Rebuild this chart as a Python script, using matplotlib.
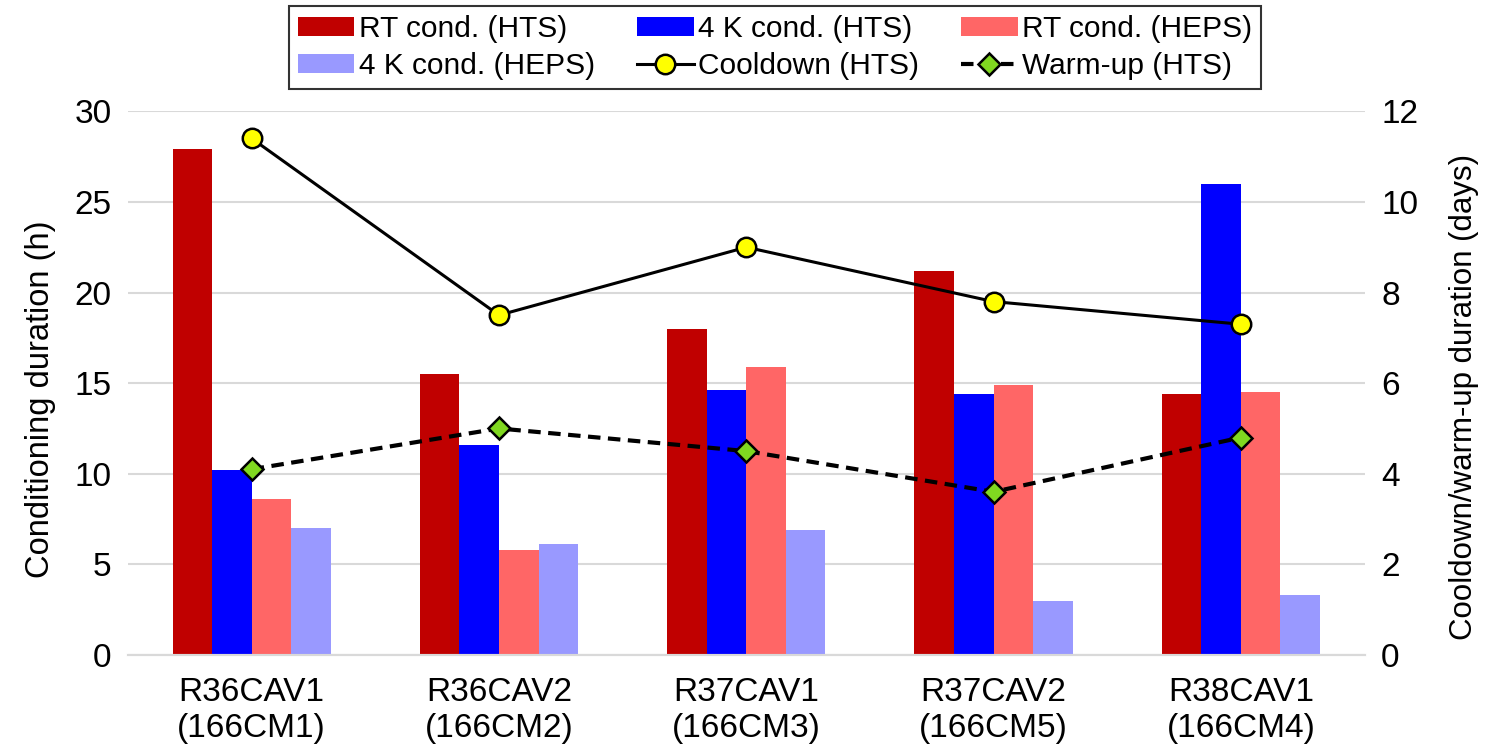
import matplotlib
matplotlib.use("Agg")
import matplotlib.pyplot as plt
import numpy as np

plt.rcParams['font.family'] = ['Liberation Sans', 'DejaVu Sans']

categories = ["R36CAV1\n(166CM1)", "R36CAV2\n(166CM2)", "R37CAV1\n(166CM3)",
              "R37CAV2\n(166CM5)", "R38CAV1\n(166CM4)"]
rt_hts = [27.9, 15.5, 18.0, 21.2, 14.4]
k4_hts = [10.2, 11.6, 14.6, 14.4, 26.0]
rt_heps = [8.6, 5.8, 15.9, 14.9, 14.5]
k4_heps = [7.0, 6.1, 6.9, 3.0, 3.3]
cooldown = [11.4, 7.5, 9.0, 7.8, 7.3]
warmup = [4.1, 5.0, 4.5, 3.6, 4.8]

fig = plt.figure(figsize=(14.96, 7.52), dpi=100)
ax = fig.add_axes([0.0856, 0.129, 0.8265, 0.723])
ax2 = ax.twinx()

x = np.arange(len(categories))
w = 0.16
series = [(rt_hts, "#C00000", "RT cond. (HTS)"),
          (k4_hts, "#0000FF", "4 K cond. (HTS)"),
          (rt_heps, "#FF6666", "RT cond. (HEPS)"),
          (k4_heps, "#9999FF", "4 K cond. (HEPS)")]
handles = []
for i, (vals, col, lab) in enumerate(series):
    b = ax.bar(x + (i - 1.5) * w, vals, width=w, color=col, label=lab, zorder=2)
    handles.append(b)

l1, = ax2.plot(x, cooldown, color="black", lw=2.2, marker="o", markersize=14,
               markerfacecolor="#FFFF00", markeredgecolor="black", markeredgewidth=1.8,
               label="Cooldown (HTS)", zorder=3)
l2, = ax2.plot(x, warmup, color="black", lw=3, ls=(0, (3, 1.8)), marker="D", markersize=11,
               markerfacecolor="#80D820", markeredgecolor="black", markeredgewidth=1.8,
               label="Warm-up (HTS)", zorder=3)

ax.set_xlim(-0.5, 4.5)
ax.set_ylim(0, 30)
ax.set_yticks([0, 5, 10, 15, 20, 25, 30])
ax2.set_ylim(0, 12)
ax2.set_yticks([0, 2, 4, 6, 8, 10, 12])
ax.set_xticks(x)
ax.set_xticklabels(categories, fontsize=24, linespacing=1.2)
ax.yaxis.grid(True, color="#D9D9D9", lw=1.5, zorder=0)
ax.set_axisbelow(True)
for a in (ax, ax2):
    for s in ("top", "left", "right"):
        a.spines[s].set_visible(False)
    a.spines["bottom"].set_color("#D9D9D9")
    a.spines["bottom"].set_linewidth(1.5)
    a.tick_params(axis="both", length=0, labelsize=24, pad=12)
ax.tick_params(axis="x", pad=16)
ax.set_ylabel("Conditioning duration (h)", fontsize=23.5)
ax2.set_ylabel("Cooldown/warm-up duration (days)", fontsize=22.5)
ax.yaxis.set_label_coords(-0.058, 0.47)
ax2.yaxis.set_label_coords(1.068, 0.475)

h = handles
order = [h[0], h[3], h[1], l1, h[2], l2]
leg = fig.legend(order, [o.get_label() for o in order], ncol=3, loc="upper center",
                 bbox_to_anchor=(0.518, 1.0), fontsize=21.5, frameon=True, fancybox=False,
                 edgecolor="black", handlelength=1.9, handleheight=0.6, columnspacing=1.4,
                 handletextpad=0.15, borderpad=0.3, labelspacing=0.3, borderaxespad=0.2)
leg.get_frame().set_linewidth(1.5)

fig.savefig("out.png", dpi=100)
